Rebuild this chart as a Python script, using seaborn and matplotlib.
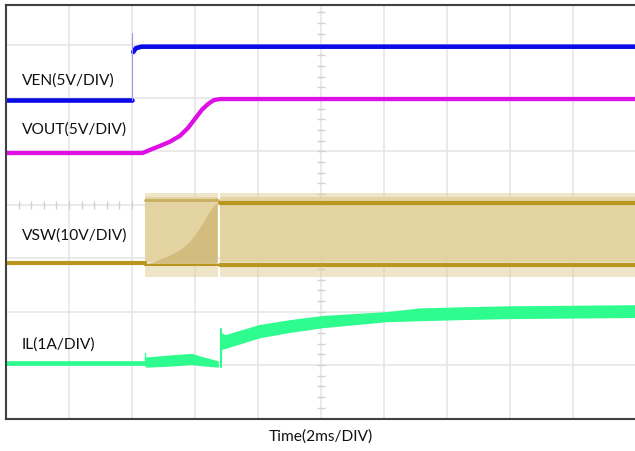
import numpy as np
import pandas as pd
import matplotlib
matplotlib.use("Agg")
import matplotlib.pyplot as plt
import seaborn as sns

# all values in scope divisions (x: 0..10, y: 0 = bottom of screen)
ven_low_t = [0.0, 2.0]
ven_low_v = [5.96, 5.96]
ven_high_t = [2.02, 2.06, 2.15, 10.0]
ven_high_v = [6.86, 6.93, 6.96, 6.96]
ven_edge_t = [2.0, 2.0]
ven_edge_v = [5.96, 7.21]

vout_t = [0.0, 2.17, 2.29, 2.44, 2.60, 2.76, 2.89, 3.0, 3.11, 3.21, 3.30, 3.40, 10.0]
vout_v = [4.97, 4.97, 5.03, 5.10, 5.18, 5.29, 5.44, 5.61, 5.78, 5.89, 5.96, 5.98, 5.98]

vsw_low_t = [0.0, 2.21]
vsw_low_v = [2.92, 2.92]
vsw_ss_t = [2.21, 3.37]          # soft-start switching window
vsw_run_t = [3.40, 10.0]         # steady switching
vsw_hi, vsw_lo = 4.04, 2.88      # switching levels
vsw_top, vsw_bot = 4.22, 2.65    # ringing envelope
vsw_avg_t = [2.21, 2.40, 2.60, 2.76, 2.90, 3.0, 3.10, 3.20, 3.28, 3.35]
vsw_avg_v = [2.88, 2.96, 3.06, 3.16, 3.30, 3.44, 3.62, 3.82, 3.96, 4.04]

il_low_t = [0.0, 2.21]
il_low_v = [1.03, 1.03]
il_ss_t = [2.21, 2.6, 2.95, 3.08, 3.37]
il_ss_hi = [1.15, 1.19, 1.22, 1.17, 1.08]
il_ss_lo = [0.96, 0.98, 1.01, 0.99, 0.96]
il_run_t = [3.41, 3.48, 4.02, 4.5, 5.03, 6.03, 6.57, 7.2, 8.0, 10.0]
il_run_hi = [1.61, 1.57, 1.76, 1.85, 1.93, 2.0, 2.07, 2.09, 2.11, 2.13]
il_run_lo = [1.29, 1.31, 1.51, 1.61, 1.70, 1.81, 1.83, 1.85, 1.87, 1.89]

labels = ["VEN(5V/DIV)", "VOUT(5V/DIV)", "VSW(10V/DIV)", "IL(1A/DIV)"]
label_y = [6.33, 5.40, 3.42, 1.38]

blue = "#0a0ae6"
magenta = "#dd10e6"
gold = "#b8961f"
tan = "#e2d29e"
green = "#2efc8e"

sns.set_style("white")
plt.rcParams["font.family"] = ["Lato", "DejaVu Sans"]

fig = plt.figure(figsize=(6.35, 4.51), dpi=100)
ax = fig.add_axes([6 / 635, 32.5 / 451, 630 / 635, 413.5 / 451])
ax.set_xlim(0, 10)
ax.set_ylim(0, 7.74)

# graticule
for gx in range(1, 10):
    ax.axvline(gx, color="#e6e6e6", lw=1.2, zorder=0)
for gy in range(1, 8):
    ax.axhline(gy, color="#e6e6e6", lw=1.2, zorder=0)
sub_y = np.arange(0.2, 7.74, 0.2)
sub_x = np.arange(0.2, 10, 0.2)
ax.plot(np.full_like(sub_y, 5.0), sub_y, ls="none", marker="_", ms=6, color="#d2d2d2", zorder=0)
ax.plot(sub_x, np.full_like(sub_x, 4.0), ls="none", marker="|", ms=6, color="#d2d2d2", zorder=0)

# VEN
sns.lineplot(x=ven_low_t, y=ven_low_v, ax=ax, color=blue, lw=3.3, estimator=None, sort=False)
sns.lineplot(x=ven_high_t, y=ven_high_v, ax=ax, color=blue, lw=3.3, estimator=None, sort=False)
sns.lineplot(x=ven_edge_t, y=ven_edge_v, ax=ax, color="#9a9af5", lw=0.8, estimator=None, sort=False)

# VOUT
sns.lineplot(x=vout_t, y=vout_v, ax=ax, color=magenta, lw=3.1, estimator=None, sort=False)

# VSW
sns.lineplot(x=vsw_low_t, y=vsw_low_v, ax=ax, color=gold, lw=3, estimator=None, sort=False)
for seg in (vsw_ss_t, vsw_run_t):
    ax.fill_between(seg, vsw_bot, vsw_top, color=tan, alpha=0.55, lw=0, zorder=1)
    ax.fill_between(seg, vsw_lo + 0.05, vsw_hi + 0.1, color=tan, alpha=0.9, lw=0, zorder=1)
ax.fill_between(vsw_avg_t, vsw_lo, vsw_avg_v, color="#cfb676", alpha=0.8, lw=0, zorder=1)
sns.lineplot(x=vsw_ss_t, y=[vsw_hi + 0.05] * 2, ax=ax, color="#c9ad60", lw=2, estimator=None, sort=False)
sns.lineplot(x=vsw_ss_t, y=[vsw_lo] * 2, ax=ax, color=gold, lw=1.5, estimator=None, sort=False)
sns.lineplot(x=vsw_run_t, y=[vsw_hi] * 2, ax=ax, color=gold, lw=3, estimator=None, sort=False)
sns.lineplot(x=vsw_run_t, y=[vsw_lo] * 2, ax=ax, color=gold, lw=3, estimator=None, sort=False)

# IL
sns.lineplot(x=il_low_t, y=il_low_v, ax=ax, color=green, lw=3.4, estimator=None, sort=False)
ax.fill_between(il_ss_t, il_ss_lo, il_ss_hi, color=green, lw=0, zorder=2)
ax.fill_between(il_run_t, il_run_lo, il_run_hi, color=green, lw=0, zorder=2)
sns.lineplot(x=[il_ss_t[0]] * 2, y=[il_low_v[0], 1.23], ax=ax, color=green, lw=1, estimator=None, sort=False)
sns.lineplot(x=[il_run_t[0]] * 2, y=[il_ss_lo[-1], 1.68], ax=ax, color=green, lw=1.5, estimator=None, sort=False)

for txt, ty in zip(labels, label_y):
    ax.text(0.25, ty, txt, fontsize=11.2, color="#111111", va="center", ha="left", zorder=5)

fig.text(321 / 635, 1 - 437 / 451, "Time(2ms/DIV)", fontsize=11.2, color="#111111", ha="center", va="center")

ax.set_xticks([])
ax.set_yticks([])
ax.set_xlabel("")
ax.set_ylabel("")
for side in ("left", "top", "bottom"):
    ax.spines[side].set_color("#404040")
    ax.spines[side].set_linewidth(1.5)
ax.spines["right"].set_visible(False)

fig.savefig("out.png", dpi=100)
